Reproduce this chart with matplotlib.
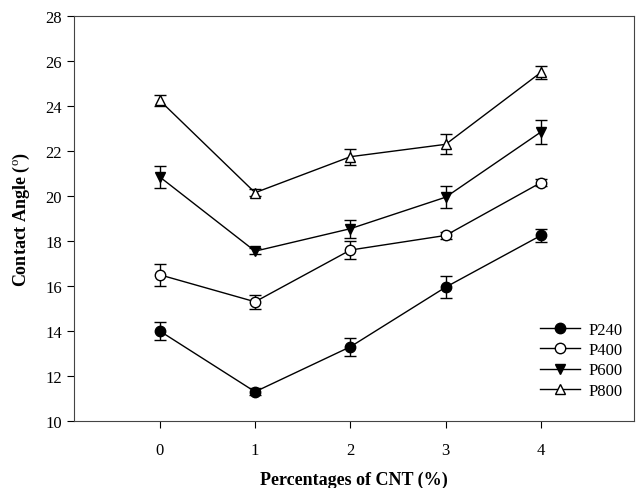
import matplotlib as mpl
mpl.use('Agg')
import matplotlib.pyplot as plt

plt.rcParams['font.family'] = ['Liberation Serif', 'DejaVu Serif']
plt.rcParams['mathtext.fontset'] = 'custom'
plt.rcParams['mathtext.rm'] = 'Liberation Serif'

cnt = [0, 1, 2, 3, 4]
p240 = [14.0, 11.3, 13.3, 15.95, 18.25]
p240_err = [0.4, 0.15, 0.4, 0.5, 0.3]
p400 = [16.5, 15.3, 17.6, 18.25, 20.6]
p400_err = [0.5, 0.3, 0.4, 0.15, 0.15]
p600 = [20.85, 17.55, 18.55, 19.95, 22.85]
p600_err = [0.5, 0.12, 0.4, 0.5, 0.55]
p800 = [24.25, 20.15, 21.75, 22.3, 25.5]
p800_err = [0.25, 0.15, 0.35, 0.45, 0.3]

fig = plt.figure(figsize=(6.36, 4.89), dpi=100)
ax = fig.add_axes([0.1164, 0.137, 0.881, 0.828])

series = [
    ("P240", p240, p240_err, 'o', 'black'),
    ("P400", p400, p400_err, 'o', 'white'),
    ("P600", p600, p600_err, 'v', 'black'),
    ("P800", p800, p800_err, '^', 'white'),
]
handles = []
for name, y, e, m, fc in series:
    eb = ax.errorbar(cnt, y, yerr=e, marker=m, markersize=7.5, markerfacecolor=fc,
                     markeredgecolor='black', color='black', linewidth=1,
                     capsize=4.5, capthick=1, elinewidth=1, label=name)
    handles.append(eb[0])

ax.set_xlim(-0.9, 4.98)
ax.set_ylim(10, 28)
ax.set_xticks(cnt)
ax.set_yticks(range(10, 29, 2))
ax.tick_params(direction='out', length=5, labelsize=12)
ax.tick_params(axis='x', pad=10)
for s in ax.spines.values():
    s.set_color('#444444')
ax.set_xlabel('Percentages of CNT (%)', fontsize=13, fontweight='bold', labelpad=9)
ax.set_ylabel(r'Contact Angle ($^{\mathrm{o}}$)', fontsize=13, fontweight='bold', labelpad=10)

ax.legend(handles, [s[0] for s in series], loc='center right',
          bbox_to_anchor=(1.006, 0.15), frameon=False,
          fontsize=12, handlelength=2.4, labelspacing=0.25, handletextpad=0.5)

fig.savefig('out.png', dpi=100)
